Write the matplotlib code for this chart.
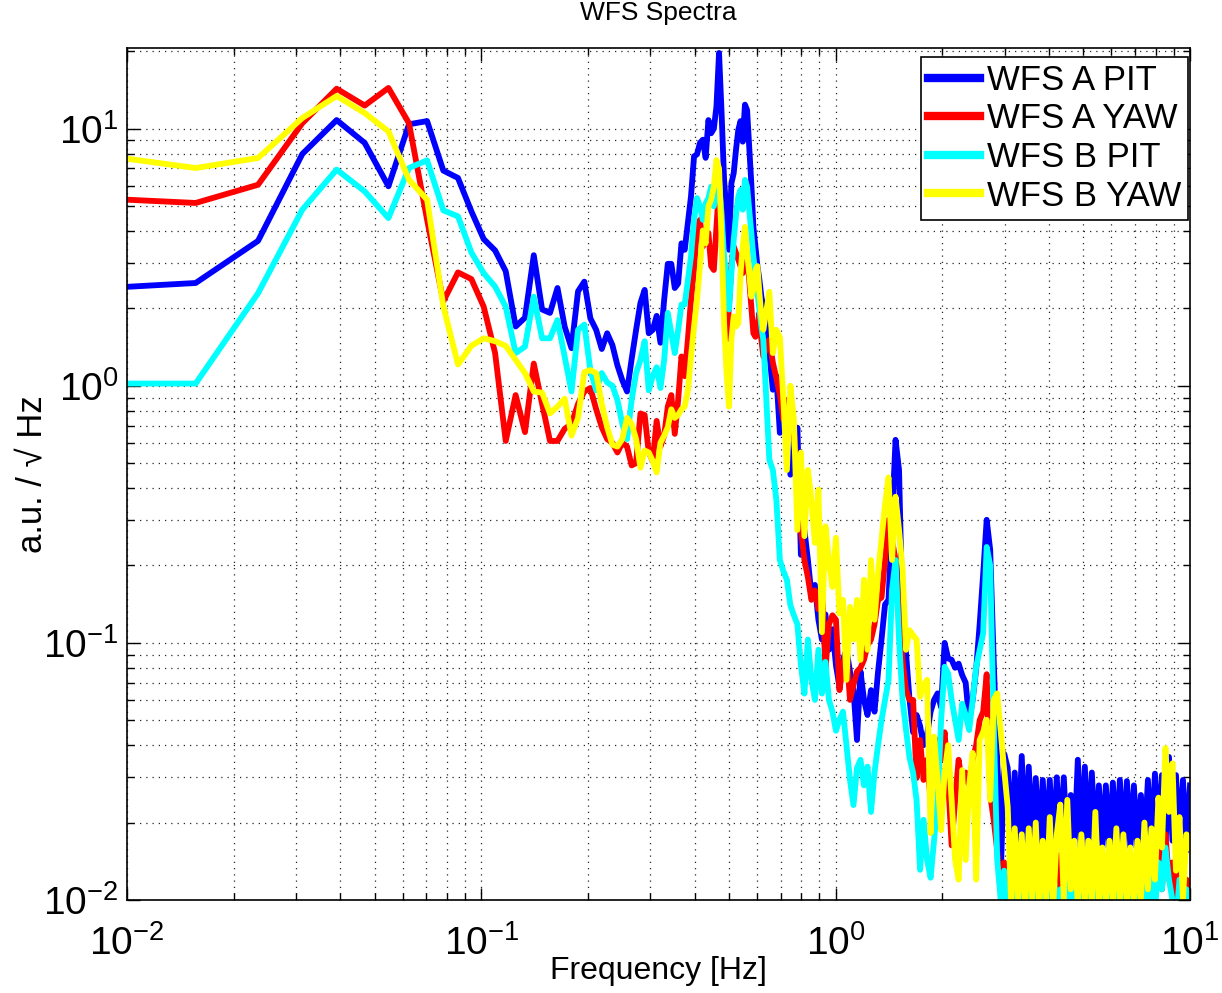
import numpy as np
import matplotlib
matplotlib.use('Agg')
import matplotlib.pyplot as plt
from matplotlib.ticker import LogLocator, NullFormatter

plt.rcParams['font.family'] = ['Liberation Sans', 'DejaVu Sans']
plt.rcParams['mathtext.fontset'] = 'custom'
plt.rcParams['mathtext.rm'] = 'Liberation Sans'
plt.rcParams['mathtext.it'] = 'Liberation Sans:italic'
plt.rcParams['mathtext.bf'] = 'Liberation Sans:bold'

# FFT bins up to 0.625 Hz (df = 1/128 Hz), then a log grid up to 10 Hz
freq_lo = np.arange(1, 81) / 128.0
freq_hi = np.geomspace(0.65, 10.0, 121)

labels = ['WFS A PIT', 'WFS A YAW', 'WFS B PIT', 'WFS B YAW']
colors = ['#0000ff', '#ff0000', '#00ffff', '#ffff00']

a_pit_lo = [2.38, 2.51, 3.66, 7.97, 10.8, 8.80, 5.97, 10.4, 10.7, 6.87,
            6.43, 4.77, 3.72, 3.36, 2.79, 1.70, 1.84, 3.22, 1.98, 1.92,
            2.40, 1.70, 1.40, 2.33, 2.54, 1.83, 1.65, 1.39, 1.60, 1.44,
            1.20, 1.05, 0.95, 1.27, 1.65, 2.10, 2.36, 1.60, 1.65, 1.87,
            1.47, 2.16, 2.98, 2.98, 2.40, 2.50, 3.58, 3.38, 4.29, 5.45,
            7.80, 7.95, 8.80, 9.06, 7.70, 10.8, 9.6, 10.0, 12.2, 19.7,
            11.5, 6.32, 4.70, 3.38, 6.12, 6.72, 8.3, 9.9, 10.7, 8.9,
            12.4, 11.8, 8.5, 6.12, 4.15, 3.48, 2.92, 2.58, 2.22, 2.03]
a_pit_hi = [1.34, 0.965, 1.09, 0.656, 0.771, 0.807, 0.451, 0.471, 0.687, 0.220,
            0.275, 0.210, 0.154, 0.168, 0.123, 0.103, 0.129, 0.094, 0.113, 0.082,
            0.0675, 0.086, 0.094, 0.0774, 0.0655, 0.0419, 0.0774, 0.060, 0.0524, 0.0655,
            0.054, 0.077, 0.103, 0.141, 0.147, 0.301, 0.616, 0.47, 0.123, 0.091,
            0.060, 0.0449, 0.0524, 0.0475, 0.040, 0.044, 0.054, 0.060, 0.0636, 0.0562,
            0.100, 0.087, 0.0859, 0.080, 0.083, 0.075, 0.070, 0.050, 0.060, 0.079,
            0.118, 0.185, 0.301, 0.23, 0.086, 0.035, 0.012, 0.037, 0.0326, 0.016,
            0.0313, 0.016, 0.0363, 0.0155, 0.033, 0.016, 0.0298, 0.0155, 0.0293, 0.016,
            0.0293, 0.0155, 0.030, 0.016, 0.030, 0.0155, 0.0256, 0.016, 0.0351, 0.0155,
            0.033, 0.016, 0.0313, 0.0155, 0.0279, 0.016, 0.0279, 0.0155, 0.0286, 0.016,
            0.0293, 0.0155, 0.029, 0.016, 0.0279, 0.0155, 0.0256, 0.016, 0.0293, 0.0155,
            0.031, 0.017, 0.0306, 0.016, 0.036, 0.017, 0.0306, 0.016, 0.0293, 0.0155,
            0.0279]

a_yaw_lo = [5.38, 5.14, 6.05, 10.5, 14.3, 12.3, 14.4, 10.5, 4.42, 2.13,
            2.76, 2.60, 2.03, 1.34, 0.61, 0.92, 0.66, 1.22, 0.85, 0.61,
            0.61, 0.68, 0.71, 0.85, 0.95, 0.98, 0.81, 0.69, 0.62, 0.60,
            0.55, 0.60, 0.58, 0.49, 0.50, 0.78, 0.77, 0.55, 0.51, 0.73,
            0.58, 0.64, 0.83, 0.92, 0.65, 0.88, 1.30, 1.09, 1.51, 2.16,
            2.82, 4.15, 4.42, 3.48, 3.70, 3.93, 2.92, 2.82, 4.15, 5.95,
            4.70, 2.36, 1.51, 2.03, 2.92, 3.48, 3.28, 3.10, 2.92, 2.74,
            3.48, 3.18, 2.58, 2.03, 1.60, 1.55, 1.70, 1.92, 1.51, 1.30]
a_yaw_hi = [1.51, 1.23, 1.07, 0.92, 0.737, 0.88, 0.64, 0.67, 0.43, 0.275,
            0.21, 0.18, 0.147, 0.16, 0.135, 0.176, 0.0785, 0.118, 0.128, 0.123,
            0.0655, 0.082, 0.094, 0.060, 0.0686, 0.0774, 0.080, 0.0859, 0.098, 0.103,
            0.118, 0.147, 0.15, 0.21, 0.301, 0.252, 0.21, 0.123, 0.0859, 0.0655,
            0.060, 0.060, 0.0298, 0.0419, 0.0293, 0.0351, 0.0245, 0.0351, 0.0419, 0.0351,
            0.0449, 0.0293, 0.0163, 0.0245, 0.0351, 0.0279, 0.0313, 0.0279, 0.0351, 0.040,
            0.050, 0.054, 0.0755, 0.0256, 0.0205, 0.0156, 0.0114, 0.014, 0.0085, 0.013,
            0.009, 0.015, 0.0085, 0.013, 0.009, 0.014, 0.0085, 0.012, 0.009, 0.014,
            0.0085, 0.013, 0.009, 0.015, 0.0085, 0.012, 0.009, 0.014, 0.0085, 0.013,
            0.009, 0.014, 0.0085, 0.012, 0.009, 0.015, 0.0085, 0.013, 0.009, 0.014,
            0.0085, 0.012, 0.009, 0.014, 0.0085, 0.013, 0.009, 0.015, 0.0085, 0.014,
            0.010, 0.016, 0.011, 0.018, 0.012, 0.014, 0.009, 0.013, 0.0085, 0.012,
            0.009]

b_pit_lo = [1.02, 1.02, 2.29, 4.84, 6.93, 5.70, 4.49, 7.03, 7.53, 4.81,
            4.56, 3.30, 2.74, 2.43, 2.03, 1.34, 1.42, 2.22, 1.53, 1.53,
            1.80, 1.30, 0.95, 1.65, 1.73, 1.15, 0.96, 1.12, 1.03, 1.00,
            0.88, 0.71, 0.62, 0.88, 1.12, 1.26, 1.49, 0.96, 1.09, 1.18,
            0.98, 1.26, 1.92, 1.60, 1.34, 1.65, 2.07, 2.07, 2.58, 3.18,
            4.42, 5.37, 4.99, 4.42, 5.13, 5.37, 5.95, 4.99, 5.6, 6.3,
            4.6, 3.18, 2.58, 1.98, 2.74, 3.70, 4.6, 5.45, 5.78, 4.84,
            6.32, 5.95, 4.84, 3.93, 3.18, 2.74, 2.29, 1.98, 1.70, 1.51]
b_pit_hi = [0.515, 0.47, 0.36, 0.21, 0.19, 0.176, 0.14, 0.128, 0.118, 0.082,
            0.0635, 0.103, 0.0718, 0.060, 0.094, 0.0635, 0.0843, 0.060, 0.054, 0.0455,
            0.0503, 0.054, 0.040, 0.0293, 0.0234, 0.0326, 0.0351, 0.0279, 0.033, 0.022,
            0.0313, 0.040, 0.050, 0.060, 0.0718, 0.161, 0.21, 0.103, 0.060, 0.0458,
            0.0357, 0.0313, 0.0245, 0.0131, 0.0205, 0.0143, 0.0122, 0.0171, 0.0245, 0.050,
            0.0807, 0.076, 0.060, 0.050, 0.0419, 0.058, 0.0524, 0.0458, 0.060, 0.0807,
            0.094, 0.109, 0.236, 0.20, 0.050, 0.0143, 0.010, 0.013, 0.008, 0.012,
            0.0085, 0.014, 0.008, 0.012, 0.009, 0.013, 0.008, 0.011, 0.0085, 0.012,
            0.008, 0.013, 0.009, 0.011, 0.008, 0.012, 0.0085, 0.013, 0.008, 0.011,
            0.009, 0.012, 0.008, 0.013, 0.0085, 0.011, 0.008, 0.012, 0.009, 0.013,
            0.008, 0.011, 0.0085, 0.012, 0.008, 0.013, 0.009, 0.012, 0.0085, 0.013,
            0.009, 0.014, 0.011, 0.016, 0.012, 0.010, 0.008, 0.012, 0.0085, 0.011,
            0.009]

b_yaw_lo = [8.0, 7.03, 7.69, 11.0, 13.4, 11.5, 9.76, 6.33, 5.29, 2.04,
            1.21, 1.43, 1.53, 1.49, 1.43, 1.26, 1.12, 0.95, 0.94, 0.78,
            0.83, 0.89, 0.64, 0.75, 1.13, 1.15, 1.12, 0.85, 0.69, 0.59,
            0.58, 0.62, 0.75, 0.71, 0.62, 0.48, 0.56, 0.55, 0.51, 0.46,
            0.60, 0.64, 0.69, 0.81, 0.75, 0.77, 0.81, 0.83, 0.96, 1.30,
            1.70, 2.16, 2.92, 4.02, 3.58, 4.99, 5.30, 5.95, 7.55, 7.0,
            3.70, 1.75, 1.12, 0.83, 1.51, 1.86, 1.70, 1.75, 2.74, 3.48,
            4.15, 3.28, 2.74, 2.22, 2.36, 2.82, 2.92, 2.29, 1.86, 1.65]
b_yaw_hi = [2.32, 1.34, 1.65, 1.54, 0.882, 0.47, 1.0, 0.737, 0.275, 0.55,
            0.26, 0.47, 0.36, 0.245, 0.394, 0.11, 0.284, 0.21, 0.165, 0.256,
            0.13, 0.147, 0.0718, 0.138, 0.103, 0.147, 0.0859, 0.176, 0.094, 0.21,
            0.123, 0.185, 0.252, 0.345, 0.44, 0.21, 0.37, 0.275, 0.192, 0.094,
            0.112, 0.107, 0.103, 0.0617, 0.0686, 0.0718, 0.0182, 0.0432, 0.0293, 0.0187,
            0.0313, 0.040, 0.0245, 0.0143, 0.012, 0.032, 0.0143, 0.0279, 0.0373, 0.012,
            0.0419, 0.045, 0.0502, 0.0245, 0.060, 0.0636, 0.045, 0.032, 0.023, 0.0095,
            0.019, 0.010, 0.018, 0.0095, 0.019, 0.010, 0.020, 0.0095, 0.017, 0.010,
            0.021, 0.0095, 0.018, 0.0235, 0.010, 0.0245, 0.011, 0.017, 0.0095, 0.018,
            0.010, 0.017, 0.0095, 0.022, 0.010, 0.016, 0.0095, 0.017, 0.010, 0.019,
            0.0095, 0.018, 0.010, 0.016, 0.0095, 0.017, 0.010, 0.020, 0.011, 0.019,
            0.012, 0.025, 0.016, 0.039, 0.022, 0.034, 0.013, 0.021, 0.010, 0.018,
            0.016]

freq = np.concatenate([freq_lo, freq_hi])
series = [a_pit_lo + a_pit_hi, a_yaw_lo + a_yaw_hi,
          b_pit_lo + b_pit_hi, b_yaw_lo + b_yaw_hi]

fig = plt.figure(figsize=(12.22, 9.93), dpi=100)
ax = fig.add_axes([0.1039, 0.0937, 0.8699, 0.8580])

for vals, lab, col in zip(series, labels, colors):
    ax.loglog(freq, vals, color=col, lw=4.2, label=lab)

ax.set_xlim(0.01, 10)
ax.set_ylim(0.01, 20.6)

ax.xaxis.set_minor_locator(LogLocator(base=10, subs=np.arange(2, 10)))
ax.yaxis.set_minor_locator(LogLocator(base=10, subs=np.arange(2, 10)))
ax.xaxis.set_minor_formatter(NullFormatter())
ax.yaxis.set_minor_formatter(NullFormatter())

# matlab style dotted grid
ax.grid(True, which='both', linestyle=(0, (1, 4)), color='0.15', lw=0.9)
ax.tick_params(which='both', direction='in', top=True, right=True, labelsize=28, width=1)
ax.tick_params(which='major', length=9)
ax.tick_params(which='minor', length=5)
ax.tick_params(axis='x', which='major', pad=18)
ax.tick_params(axis='y', which='major', pad=6)
for sp in ax.spines.values():
    sp.set_linewidth(1.2)

ax.set_title('WFS Spectra', fontsize=19, pad=20)
ax.set_xlabel('Frequency [Hz]', fontsize=23, labelpad=-5)
ax.set_ylabel('a.u. / \u221a Hz', fontsize=25, labelpad=-4)

leg = ax.legend(loc='upper right', bbox_to_anchor=(0.998, 0.9894), borderaxespad=0,
                fontsize=25, handlelength=1.5, handletextpad=0.2, labelspacing=0.16,
                borderpad=0.2, fancybox=False, framealpha=1)
leg.get_frame().set_edgecolor('black')
leg.get_frame().set_linewidth(1.2)
for h in leg.get_lines():
    h.set_linewidth(6)

fig.savefig('out.png', dpi=100)
